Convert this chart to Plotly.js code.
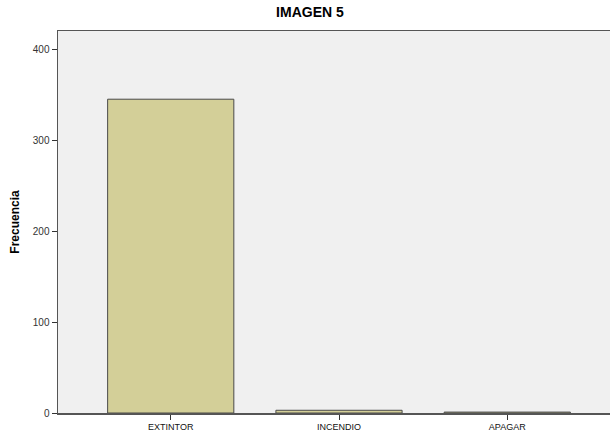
<!DOCTYPE html>
<html><head><meta charset="utf-8">
<script src="https://cdn.plot.ly/plotly-3.0.1.min.js"></script>
<style>html,body{margin:0;padding:0;background:#fff;overflow:hidden}#wrap{width:610px;height:435px;overflow:hidden}#chart{width:630px;height:435px}</style>
</head><body><div id="wrap"><div id="chart"></div></div>
<script>
const categories = ["EXTINTOR", "INCENDIO", "APAGAR"];
const frecuencia = [345, 3, 1];
const yTicks = [0, 100, 200, 300, 400];

const trace = {
  type: "bar",
  x: categories,
  y: frecuencia,
  width: 0.75,
  marker: {color: "#D3CF98", line: {color: "#4a4a4a", width: 1}},
  hoverinfo: "x+y"
};

const layout = {
  width: 630, height: 435,
  margin: {l: 58, r: 10, t: 31, b: 22, pad: 0},
  paper_bgcolor: "#ffffff",
  plot_bgcolor: "#F0F0F0",
  showlegend: false,
  font: {family: "Liberation Sans, Arial, sans-serif", color: "#000"},
  title: {text: "<b>IMAGEN 5</b>", font: {size: 14, color: "#000"}, xref: "container", x: 0.492, xanchor: "center", yref: "container", y: 0.972, yanchor: "middle"},
  xaxis: {
    type: "category",
    range: [-0.67, 2.67],
    showline: true, linecolor: "#555", linewidth: 1.5, mirror: true,
    ticks: "outside", ticklen: 5, tickcolor: "#333", tickwidth: 1,
    tickfont: {size: 9, color: "#111"},
    showgrid: false, zeroline: false, fixedrange: true
  },
  yaxis: {
    range: [0, 420],
    tickvals: yTicks,
    showline: true, linecolor: "#555", linewidth: 1.5, mirror: true,
    ticks: "outside", ticklen: 5, tickcolor: "#333", tickwidth: 1,
    tickfont: {size: 10, color: "#333"},
    showgrid: false, zeroline: false,
    title: {text: "<b>Frecuencia</b>", font: {size: 12, color: "#000"}, standoff: 10},
    fixedrange: true
  }
};

Plotly.newPlot("chart", [trace], layout, {displayModeBar: false, staticPlot: true});
</script>
</body></html>
